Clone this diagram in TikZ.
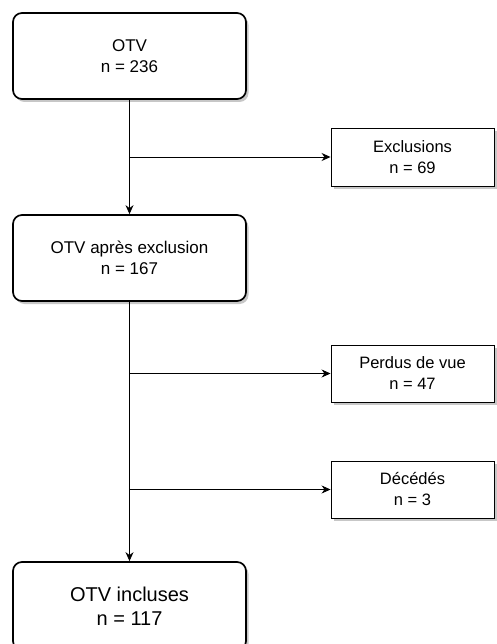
\documentclass[tikz,border=0pt]{standalone}
\usepackage{fontspec}
\setmainfont{Liberation Sans}
\usetikzlibrary{arrows.meta,shadows}
\begin{document}
\begin{tikzpicture}[x=1pt,y=-1pt,
  shad/.style={drop shadow={shadow xshift=2.5pt, shadow yshift=-3pt, fill=black!22, opacity=1}},
  mainbox/.style={draw, line width=1.7pt, rounded corners=9pt, fill=white, shad,
    minimum width=233pt, align=center, inner sep=0pt,
    font=\fontsize{17}{21}\selectfont},
  sidebox/.style={draw, line width=0.9pt, fill=white, shad,
    minimum width=163pt, minimum height=57pt, align=center, inner sep=0pt,
    font=\fontsize{16.5}{21}\selectfont},
  arr/.style={-{Stealth[length=9pt,width=8pt]}, line width=0.9pt}]
\useasboundingbox (0,0) rectangle (496,644);
\node[mainbox, minimum height=86pt] (otv) at (129.5,56) {OTV\\n = 236};
\node[mainbox, minimum height=86pt] (apres) at (129.5,258) {OTV après exclusion\\n = 167};
\node[mainbox, minimum height=88pt, font=\fontsize{20}{24}\selectfont] (incl) at (129.5,606) {OTV incluses\\n = 117};
\node[sidebox, minimum height=58pt] (excl) at (412.5,157) {Exclusions\\n = 69};
\node[sidebox] (perdus) at (412.5,373.5) {Perdus de vue\\n = 47};
\node[sidebox] (deces) at (412.5,489.5) {Décédés\\n = 3};
\draw[arr] (otv.south) -- (apres.north);
\draw[arr] (apres.south) -- (incl.north);
\draw[arr] (otv.south |- excl.west) -- (excl.west);
\draw[arr] (apres.south |- perdus.west) -- (perdus.west);
\draw[arr] (apres.south |- deces.west) -- (deces.west);
\end{tikzpicture}
\end{document}
